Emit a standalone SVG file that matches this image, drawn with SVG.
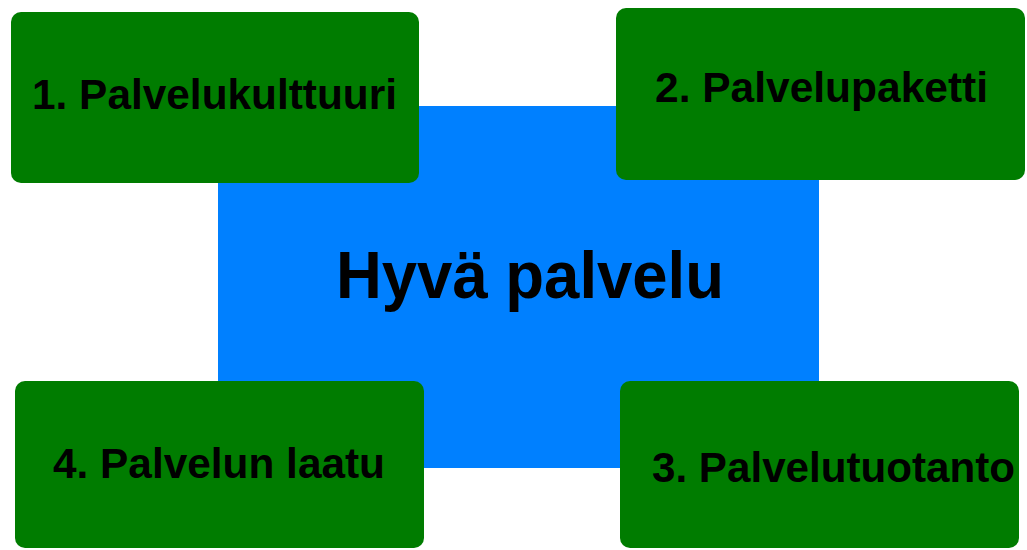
<svg xmlns="http://www.w3.org/2000/svg" width="1027" height="550" viewBox="0 0 1027 550">
<style>
.box{fill:#007C00;}
.lbl{font-family:"Liberation Sans",Arial,sans-serif;font-weight:bold;font-size:42px;fill:#000;}
.center{fill:#0080FF;}
.ctext{font-family:"Liberation Sans",Arial,sans-serif;font-weight:bold;font-size:66px;fill:#000;}
</style>
<rect width="1027" height="550" fill="#fff"/>
<g id="center">
<rect class="center" x="218" y="106" width="601" height="362"/>
<text class="ctext" x="530" y="298" text-anchor="middle" textLength="388" lengthAdjust="spacingAndGlyphs">Hyvä palvelu</text>
</g>
<g id="node1">
<rect class="box" x="11" y="12" width="408" height="171" rx="10"/>
<text class="lbl" x="32" y="109" textLength="365" lengthAdjust="spacingAndGlyphs">1. Palvelukulttuuri</text>
</g>
<g id="node2">
<rect class="box" x="616" y="8" width="409" height="172" rx="10"/>
<text class="lbl" x="655" y="102" textLength="333" lengthAdjust="spacingAndGlyphs">2. Palvelupaketti</text>
</g>
<g id="node3">
<rect class="box" x="620" y="381" width="399" height="167" rx="10"/>
<text class="lbl" x="652" y="482" textLength="363" lengthAdjust="spacingAndGlyphs">3. Palvelutuotanto</text>
</g>
<g id="node4">
<rect class="box" x="15" y="381" width="409" height="167" rx="10"/>
<text class="lbl" x="53" y="478" textLength="332" lengthAdjust="spacingAndGlyphs">4. Palvelun laatu</text>
</g>
<g id="connectors"></g>
</svg>
